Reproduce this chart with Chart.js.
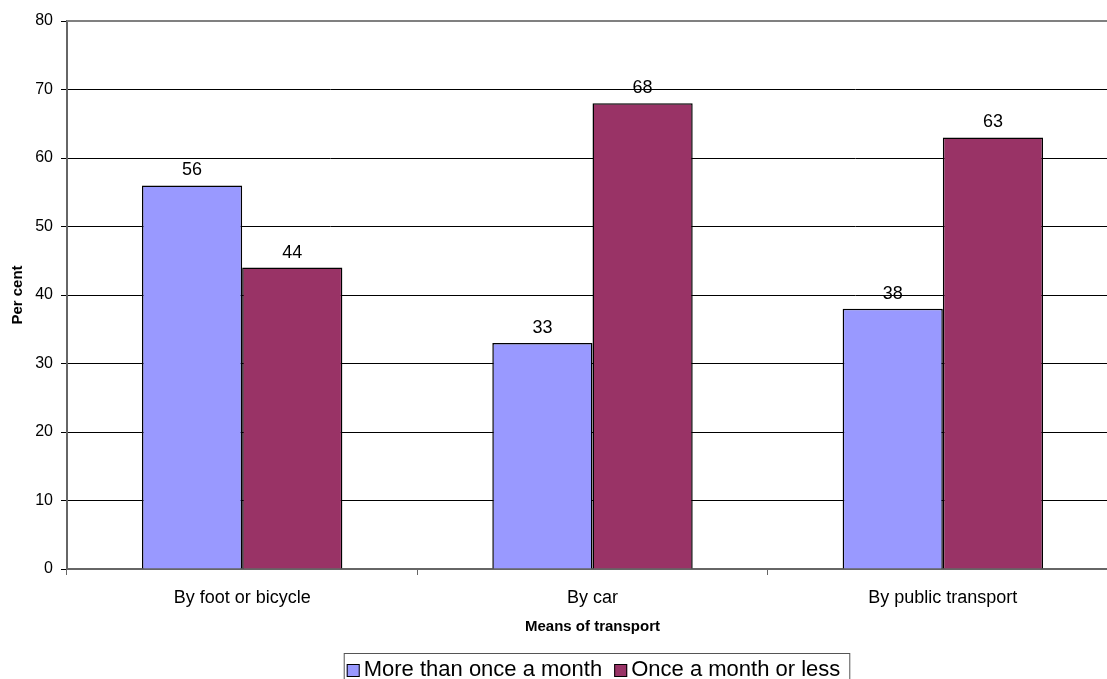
<!DOCTYPE html>
<html>
<head>
<meta charset="utf-8">
<script src="https://cdn.jsdelivr.net/npm/chart.js@4"></script>
<style>
  html, body { margin: 0; padding: 0; background: #fff; overflow: hidden; }
  canvas { display: block; }
</style>
</head>
<body>
<canvas id="transportChart" width="1200" height="679"></canvas>
<script>
// values
const categories = ['By foot or bicycle', 'By car', 'By public transport'];
const moreThanOnce = [56, 33, 38];
const onceOrLess = [44, 68, 63];
const seriesNames = ['More than once a month', 'Once a month or less'];
const yTicks = [0, 10, 20, 30, 40, 50, 60, 70, 80];

const FONT = '"Liberation Sans", Arial, sans-serif';

// labels, axis titles, top border and the boxed legend
const extras = {
    id: 'extras',
    afterDatasetsDraw(chart) {
        const ctx = chart.ctx;
        const area = chart.chartArea;
        ctx.save();

        // value labels above bars
        ctx.fillStyle = '#000';
        ctx.font = '18px ' + FONT;
        ctx.textAlign = 'center';
        ctx.textBaseline = 'alphabetic';
        chart.data.datasets.forEach((ds, i) => {
            chart.getDatasetMeta(i).data.forEach((bar, j) => {
                ctx.fillText(String(ds.data[j]), bar.x, bar.y - 10);
            });
        });

        // top border of the plot
        ctx.strokeStyle = '#808080';
        ctx.lineWidth = 2;
        ctx.beginPath();
        ctx.moveTo(area.left, area.top);
        ctx.lineTo(area.right + 1, area.top);
        ctx.stroke();

        // axis titles
        ctx.font = 'bold 15px ' + FONT;
        ctx.textBaseline = 'middle';
        ctx.fillText('Means of transport', (area.left + area.right) / 2, 627);
        ctx.save();
        ctx.translate(18, (area.top + area.bottom) / 2);
        ctx.rotate(-Math.PI / 2);
        ctx.fillText('Per cent', 0, 0);
        ctx.restore();

        // legend
        ctx.font = '22px ' + FONT;
        ctx.textAlign = 'left';
        const sw = 13, gapText = 4, gapItem = 12, padL = 3, padR = 9;
        const widths = seriesNames.map(n => ctx.measureText(n).width);
        const total = padL + sw + gapText + widths[0] + gapItem + sw + gapText + widths[1] + padR;
        const boxLeft = (area.left + area.right) / 2 + 4 - total / 2;
        const boxTop = 653;
        ctx.strokeStyle = '#555';
        ctx.lineWidth = 1;
        ctx.strokeRect(boxLeft + 0.5, boxTop + 0.5, total, 40);
        let x = boxLeft + padL;
        const midY = 670;
        chart.data.datasets.forEach((ds, i) => {
            ctx.fillStyle = ds.backgroundColor;
            ctx.fillRect(x, midY - 6, sw, sw);
            ctx.strokeStyle = '#000';
            ctx.strokeRect(x + 0.5, midY - 5.5, sw - 1, sw - 1);
            x += sw + gapText;
            ctx.fillStyle = '#000';
            ctx.fillText(seriesNames[i], x, midY);
            x += widths[i] + gapItem;
        });

        ctx.restore();
    }
};

new Chart(document.getElementById('transportChart'), {
    type: 'bar',
    data: {
        labels: categories,
        datasets: [{
            label: seriesNames[0],
            data: moreThanOnce,
            backgroundColor: '#9999FF',
            borderColor: '#000',
            borderWidth: 1.5
        }, {
            label: seriesNames[1],
            data: onceOrLess,
            backgroundColor: '#993366',
            borderColor: '#000',
            borderWidth: 1.5
        }]
    },
    options: {
        responsive: false,
        animation: false,
        devicePixelRatio: 1,
        layout: { padding: { top: 21, right: 82, left: 0, bottom: 0 } },
        datasets: {
            bar: { categoryPercentage: 0.572, barPercentage: 1 }
        },
        plugins: {
            legend: { display: false },
            tooltip: { enabled: false }
        },
        scales: {
            x: {
                grid: {
                    offset: true,
                    drawOnChartArea: false,
                    tickLength: 6,
                    tickColor: '#666',
                    tickWidth: 1
                },
                border: { color: '#666', width: 2 },
                ticks: {
                    color: '#000',
                    font: { family: FONT, size: 18 },
                    padding: 12,
                    maxRotation: 0
                },
                afterFit(scale) { scale.height = 110; }
            },
            y: {
                min: 0,
                max: 80,
                afterBuildTicks(scale) { scale.ticks = yTicks.map(v => ({ value: v })); },
                grid: {
                    color: c => (c.tick && (c.tick.value === 0 || c.tick.value === 80)) ? 'rgba(0,0,0,0)' : '#000',
                    tickColor: '#000',
                    tickLength: 6,
                    lineWidth: 1
                },
                border: { color: '#666', width: 2 },
                ticks: {
                    color: '#000',
                    font: { family: FONT, size: 16 },
                    padding: 8
                },
                afterFit(scale) { scale.width = 67; }
            }
        }
    },
    plugins: [extras]
});
</script>
</body>
</html>
